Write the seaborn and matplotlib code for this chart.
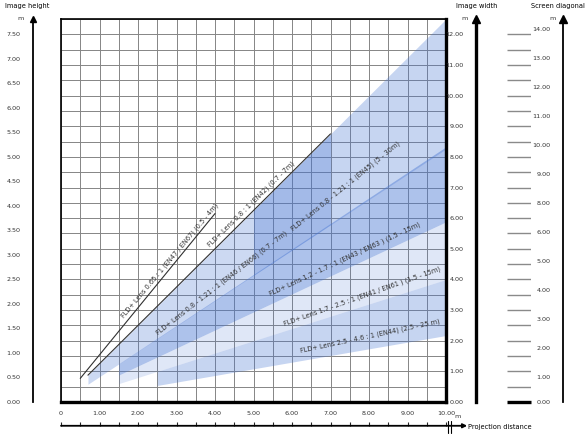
import numpy as np
import matplotlib
matplotlib.use("Agg")
import matplotlib.pyplot as plt
import matplotlib.transforms as mtransforms
import seaborn as sns

# lens lines (projection distance in m, image width in m)
lens_065_d = [0.5, 4.0]
lens_065_w = [0.77, 6.15]
lens_080_d = [0.7, 7.0]
lens_080_w = [0.875, 8.75]

# zoom lens bands: distance range, upper and lower image width
band_names = ["EN46/EN66", "EN45", "EN43/EN63", "EN41/EN61", "EN44"]
band_d = [[0.7, 7.0], [5.0, 10.0], [1.5, 10.0], [1.5, 10.0], [2.5, 10.0]]
band_upper = [[0.875, 8.75], [6.25, 12.5], [1.25, 8.33], [0.88, 5.88], [1.0, 4.0]]
band_lower = [[0.58, 5.79], [4.13, 8.26], [0.88, 5.88], [0.6, 4.0], [0.54, 2.17]]

labels = [
    "FLD+ Lens 0.65 : 1 (EN47 / EN67) (0.5 - 4m)",
    "FLD+ Lens 0.8 : 1 (EN42) (0.7 - 7m)",
    "FLD+ Lens 0.8 - 1.21 : 1 (EN46 / EN66) (0.7 - 7m)",
    "FLD+ Lens 0.8 - 1.21 : 1 (EN45) (5 - 30m)",
    "FLD+ Lens 1.2 - 1.7 : 1 (EN43 / EN63 ) (1.5 - 15m)",
    "FLD+ Lens 1.7 - 2.5 : 1 (EN41 / EN61 ) (1.5 - 15m)",
    "FLD+ Lens 2.5 - 4.6 : 1 (EN44) (2.5 - 25 m)",
]
label_pos = [(2.82, 4.62), (4.95, 6.45), (4.18, 3.90), (7.38, 7.05),
             (7.38, 4.66), (7.82, 3.46), (8.02, 2.16)]
label_rot = [50, 44.5, 38, 39, 25, 19.5, 12]

height_ticks = np.arange(0, 7.51, 0.5)
width_ticks = np.arange(0, 12.1, 1.0)
dist_ticks = np.arange(0, 10.1, 1.0)
dist_labels = ["0"] + ["%.2f" % v for v in dist_ticks[1:]]
diag_labels = ["0.00", "1.00", "2.00", "3.00", "4.00", "5.00", "6.00",
               "8.00", "9.00", "10.00", "11.00", "12.00", "13.00", "14.00"]

sns.set_theme(style="white")
plt.rcParams['font.family'] = ['Liberation Sans Narrow', 'DejaVu Sans']

W, H = 587, 437
def fx(px):
    return px / W
def fy(py):
    return 1 - py / H

fig = plt.figure(figsize=(5.87, 4.37), dpi=100)
fig.patch.set_facecolor("white")
FS = 4.6
TXT = "#333333"
blue = "#4574d2"
band_alpha = [0.27, 0.30, 0.44, 0.17, 0.30]

# main grid
ax = fig.add_axes([fx(61), fy(402), (446 - 61) / W, (402 - 19) / H])
ax.set_xlim(0, 10)
ax.set_ylim(0, 12.5)
ax.set_xticks(np.arange(0, 10.01, 0.5))
ax.set_yticks(np.arange(0, 12.51, 0.5))
ax.tick_params(length=0, labelbottom=False, labelleft=False)
ax.grid(True, color="#858585", lw=0.7)
ax.set_axisbelow(True)
for s in ["left", "top"]:
    ax.spines[s].set_linewidth(1.2)
    ax.spines[s].set_color("black")
for s in ["right", "bottom"]:
    ax.spines[s].set_linewidth(2.4)
    ax.spines[s].set_color("black")

for d, up, lo, a in zip(band_d, band_upper, band_lower, band_alpha):
    ax.fill_between(d, lo, up, color=blue, alpha=a, lw=0, zorder=2)

sns.lineplot(x=lens_065_d, y=lens_065_w, color="#303030", lw=0.8, ax=ax, zorder=3)
sns.lineplot(x=lens_080_d, y=lens_080_w, color="#303030", lw=0.8, ax=ax, zorder=3)

for txt, (x, y), r in zip(labels, label_pos, label_rot):
    ax.text(x, y, txt, rotation=r, rotation_mode="anchor", ha="center", va="center",
            fontsize=4.8, color=TXT, zorder=4)

# left image height scale
axh = fig.add_axes([fx(33), fy(402), 0.001, (402 - 19) / H])
axh.set_ylim(0, 12.5 * 10 / 16)
axh.set_xticks([])
axh.set_yticks(height_ticks)
axh.set_yticklabels(["%.2f" % v for v in height_ticks])
for s in ["right", "top", "bottom"]:
    axh.spines[s].set_visible(False)
axh.spines["left"].set_linewidth(1.3)
axh.spines["left"].set_color("black")
axh.tick_params(axis="y", length=4, width=0.6, pad=5, labelsize=FS, labelcolor=TXT)
axh.plot(0, 1.0, marker="^", ms=5, color="black", transform=axh.transAxes, clip_on=False)

# right image width scale
axw = fig.add_axes([fx(476), fy(402), 0.001, (402 - 19) / H])
axw.set_ylim(0, 12.5)
axw.set_xticks([])
axw.set_yticks(width_ticks)
axw.set_yticks(np.arange(0.5, 12.1, 1.0), minor=True)
axw.set_yticklabels(["%.2f" % v for v in width_ticks])
for s in ["right", "top", "bottom"]:
    axw.spines[s].set_visible(False)
axw.spines["left"].set_linewidth(2.4)
axw.spines["left"].set_color("black")
axw.tick_params(axis="y", which="both", length=4, width=0.6, pad=5, labelsize=FS, labelcolor=TXT)
axw.plot(0, 1.0, marker="^", ms=5.5, color="black", transform=axw.transAxes, clip_on=False)

# dashes between the scales
axm = fig.add_axes([fx(507), fy(402), (531 - 507) / W, (402 - 19) / H])
axm.set_xlim(0, 1)
axm.set_ylim(0, 12.5)
axm.axis("off")
axm.hlines(np.arange(0.5, 12.1, 0.5), 0, 1, color="#8a8a8a", lw=1.0)
axm.hlines([0.0], 0, 1, color="black", lw=2.4, clip_on=False)

# screen diagonal scale
axd = fig.add_axes([fx(563), fy(402), 0.001, (402 - 19) / H])
axd.set_ylim(0.138, 13.345)
axd.set_xticks([])
axd.set_yticks([0.138] + list(range(1, 14)))
axd.set_yticks(np.arange(0.5, 13.0, 1.0), minor=True)
axd.set_yticklabels(diag_labels)
for s in ["right", "top", "bottom"]:
    axd.spines[s].set_visible(False)
axd.spines["left"].set_linewidth(1.3)
axd.spines["left"].set_color("black")
axd.tick_params(axis="y", which="major", length=6, width=1.0, pad=3, labelsize=FS, labelcolor=TXT)
axd.tick_params(axis="y", which="minor", length=6, width=0.6, color="#555555")
axd.plot(0, 1.0, marker="^", ms=5.5, color="black", transform=axd.transAxes, clip_on=False)

# projection distance axis
axb = fig.add_axes([fx(61), fy(426), (446 - 61) / W, 0.0005])
axb.set_xlim(0, 10)
axb.set_yticks([])
for s in ["left", "right", "bottom", "top"]:
    axb.spines[s].set_visible(False)
axb.xaxis.tick_top()
axb.set_xticks(dist_ticks)
axb.set_xticklabels(dist_labels)
axb.set_xticks(np.arange(0.5, 10, 1.0), minor=True)
axb.tick_params(axis="x", which="both", direction="out", length=3, width=0.8, pad=4,
                labelsize=FS, labelcolor=TXT)
axb.annotate("", xy=(10.55, 1), xytext=(0, 1), xycoords=("data", "axes fraction"),
             textcoords=("data", "axes fraction"),
             arrowprops=dict(arrowstyle="-|>", color="black", lw=1.3,
                             mutation_scale=6, shrinkA=0, shrinkB=0))
brk = mtransforms.blended_transform_factory(axb.transData, fig.transFigure)
for bx in [10.05, 10.12]:
    axb.plot([bx, bx], [fy(433), fy(421)], color="black", lw=0.8,
             transform=brk, clip_on=False)

# titles
fig.text(fx(27), fy(6), "Image height", ha="center", va="center", fontsize=FS + 0.2, color="black")
fig.text(fx(21), fy(18), "m", ha="center", va="center", fontsize=FS, color=TXT)
fig.text(fx(477), fy(6), "Image width", ha="center", va="center", fontsize=FS + 0.2, color="black")
fig.text(fx(465), fy(18), "m", ha="center", va="center", fontsize=FS, color=TXT)
fig.text(fx(585), fy(6), "Screen diagonal", ha="right", va="center", fontsize=FS + 0.2, color="black")
fig.text(fx(553), fy(18), "m", ha="center", va="center", fontsize=FS, color=TXT)
fig.text(fx(457), fy(417), "m", ha="center", va="center", fontsize=FS, color=TXT)
fig.text(fx(468), fy(427), "Projection distance", ha="left", va="center", fontsize=FS + 0.2, color="black")

fig.savefig("out.png", dpi=100)
